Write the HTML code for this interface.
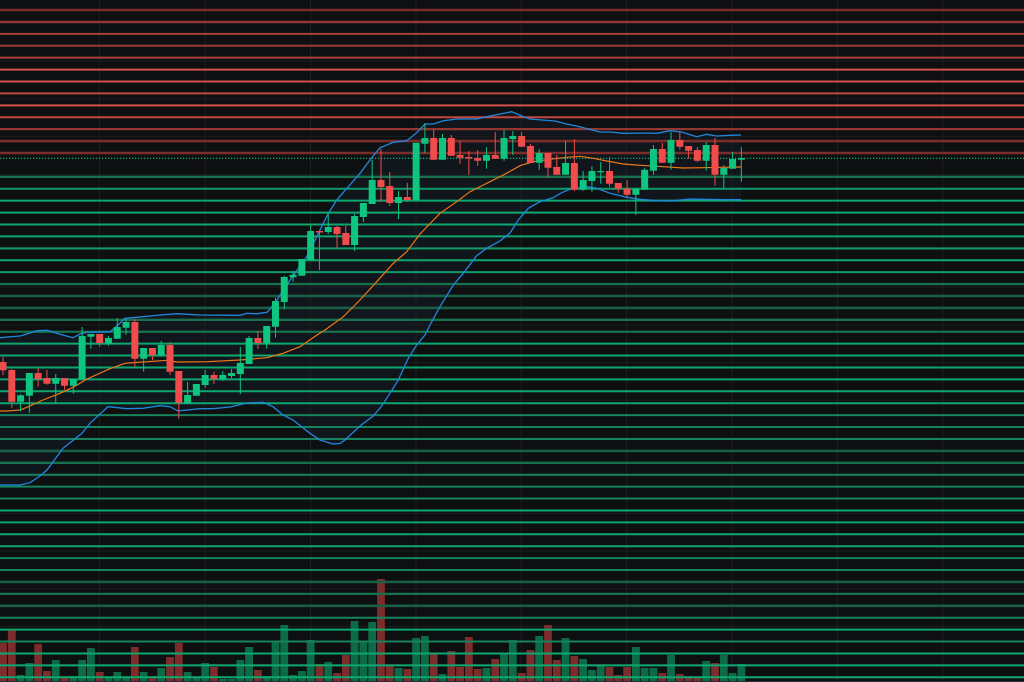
<!DOCTYPE html>
<html>
<head>
<meta charset="utf-8">
<style>
html,body{margin:0;padding:0;background:#0e0f10;}
svg{display:block;}
</style>
</head>
<body>
<svg width="1024" height="682" viewBox="0 0 1024 682" xmlns="http://www.w3.org/2000/svg">
<rect x="0" y="0" width="1024" height="682" fill="#0e0f10"/>
<!-- band fill -->
<path fill="#11161c" d="M0,337.7 L7,337 20,336 30,333 37,330.7 47,330.3 60,334.3 73,337.7 80,334 87,332.3 110,331.7 118,325 125,318.3 143,316.7 160,315 177,313.7 200,315 240,315.3 247,313.3 257,313.7 267,312.3 270,309 277,300 290,280 306.7,256.7 328.3,213.3 336.7,200 360,173.3 371.7,157.7 380,147.7 393.3,142.3 406.7,140.7 416.7,132.7 425,124 433.3,124 443.3,120.7 456.7,119 476.7,119 490,116 500,114 511.7,111.7 521.7,116 530,119 555,121 566.7,124 576.7,126 600,132 610,132 623.3,133.3 646.7,133 656.7,133.3 670,130.7 681.7,132 696.7,136.7 706.7,134.3 716.7,136 730,135.3 741,135 L741,682 L0,682 Z"/>
<path fill="#0e0f10" d="M0,485 L20,485 30,482.7 40,476 47,470 63,448.3 82,433.3 90,423.3 108,406.7 127,408.7 143,408.3 160,405.7 170,406.7 178,411 200,408.7 213,408.7 230,407 247,403 263,402.3 273,406.7 283,415 293,420 310,433.3 320,440 333,444 340,443.5 345,440 360,426 373.3,416 381.7,406 390,393.3 398.3,380 408.3,358.3 416.7,345 425,335 430,325 440,306.7 453.3,285 463.3,273.3 476.7,255.7 486.7,248.3 500,241 510,233 518.3,220 528.3,208.3 540,201.7 553.3,197.7 561.7,192.7 570,189.3 586.7,186.7 596.7,188.3 610,193.3 626.7,197.3 640,199.3 656.7,200.7 670,201 690,199 703.3,199.3 723.3,199.7 741,199.7 L741,682 L0,682 Z"/>
<!-- grid -->
<path stroke="#1d1e20" stroke-width="1" fill="none" d="M99.5 0V682M205 0V682M310.5 0V682M416 0V682M521 0V682M626.5 0V682M732 0V682M837.5 0V682M943 0V682
M0 23.3H1024M0 61H1024M0 98.7H1024M0 136.4H1024M0 174.1H1024M0 211.8H1024M0 249.5H1024M0 287.2H1024M0 324.9H1024M0 362.6H1024M0 400.3H1024M0 438H1024M0 475.7H1024M0 513.4H1024M0 551.1H1024M0 588.8H1024M0 626.5H1024M0 664.2H1024"/>
<!-- volume -->
<path stroke="#0c6a47" stroke-width="7.8" fill="none" d="M20.58 675V681M29.37 663V681M55.74 660V681M73.32 676V681M82.11 660V681M90.9 648V681M108.48 677V681M117.27 672V681M126.06 677V681M143.64 672V681M161.22 668V681M187.59 672V681M196.38 677V681M205.17 663V681M222.75 679V681M231.54 679V681M240.33 660V681M249.12 647V681M266.7 676V681M275.49 641V681M284.28 625V681M293.07 675V681M301.86 671V681M310.65 640V681M328.23 662V681M354.6 621V681M363.39 641V681M372.18 622V681M398.55 668V681M416.13 638V681M424.92 636V681M442.5 674V681M486.45 668V681M504.03 654V681M512.82 640V681M539.19 636V681M565.56 638V681M583.14 659V681M591.93 670V681M600.72 665V681M635.88 647V681M644.67 668V681M653.46 668V681M671.04 655V681M706.2 661V681M723.78 655V681M732.57 673V681M741.36 664V681"/>
<path stroke="#7d2b2b" stroke-width="7.8" fill="none" d="M3 643V681M11.79 629.7V681M38.16 644V681M46.95 671V681M64.53 677V681M99.69 672V681M134.85 647V681M152.43 676V681M170.01 657V681M178.8 643V681M213.96 667V681M257.91 670V681M319.44 664V681M337.02 673V681M345.81 655V681M380.97 579V681M389.76 666V681M407.34 669V681M433.71 654V681M451.29 651V681M460.08 667V681M468.87 637V681M477.66 669V681M495.24 659V681M521.61 673V681M530.4 650V681M547.98 625V681M556.77 660V681M574.35 656V681M609.51 667V681M618.3 675V681M627.09 667V681M662.25 673V681M679.83 674V681M688.62 676V681M697.41 677V681M714.99 663V681"/>
<!-- red level lines -->
<path stroke="#7b2d2a" stroke-width="2.6" fill="none" d="M0 10H1024M0 141.08H1024M0 152.99H1024"/>
<path stroke="#923631" stroke-width="2.3" fill="none" d="M0 21.92H1024M0 45.75H1024M0 129.16H1024"/>
<path stroke="#a8403a" stroke-width="2" fill="none" d="M0 33.83H1024M0 57.66H1024"/>
<path stroke="#c04840" stroke-width="2" fill="none" d="M0 93.41H1024M0 117.24H1024"/>
<path stroke="#d2514a" stroke-width="2" fill="none" d="M0 69.58H1024M0 81.5H1024M0 105.33H1024"/>
<!-- green level lines -->
<path stroke="#195f45" stroke-width="2.6" fill="none" d="M0 295.98H1024M0 307.9H1024M0 450.89H1024M0 581.97H1024M0 605.8H1024"/>
<path stroke="#17714f" stroke-width="2.3" fill="none" d="M0 176.82H1024M0 284.07H1024M0 319.82H1024M0 331.73H1024M0 462.81H1024M0 593.88H1024"/>
<path stroke="#15845c" stroke-width="2" fill="none" d="M0 415.14H1024M0 427.06H1024M0 438.98H1024M0 474.72H1024M0 486.64H1024M0 498.56H1024M0 558.14H1024M0 570.05H1024M0 617.72H1024M0 641.55H1024"/>
<path stroke="#109a68" stroke-width="2" fill="none" d="M0 188.74H1024M0 248.32H1024M0 272.15H1024"/>
<path stroke="#0da870" stroke-width="2" fill="none" d="M0 200.66H1024M0 212.57H1024M0 224.49H1024M0 236.4H1024M0 260.24H1024M0 343.65H1024M0 355.56H1024M0 367.48H1024M0 379.4H1024M0 391.31H1024M0 403.23H1024M0 510.47H1024M0 522.39H1024M0 534.3H1024M0 546.22H1024M0 629.63H1024M0 653.46H1024M0 665.38H1024M0 677.3H1024"/>
<!-- price line -->
<line x1="0" y1="158.3" x2="1024" y2="158.3" stroke="#0ecb81" stroke-width="1.2" stroke-dasharray="1.2 1.8"/>
<!-- axis line -->
<line x1="0" y1="681.5" x2="1024" y2="681.5" stroke="#2a2e39" stroke-width="1"/>
<!-- bollinger bands -->
<polyline fill="none" stroke="#2187dc" stroke-width="1.3" points="0,337.7 7,337 20,336 30,333 37,330.7 47,330.3 60,334.3 73,337.7 80,334 87,332.3 110,331.7 118,325 125,318.3 143,316.7 160,315 177,313.7 200,315 240,315.3 247,313.3 257,313.7 267,312.3 270,309 277,300 290,280 306.7,256.7 328.3,213.3 336.7,200 360,173.3 371.7,157.7 380,147.7 393.3,142.3 406.7,140.7 416.7,132.7 425,124 433.3,124 443.3,120.7 456.7,119 476.7,119 490,116 500,114 511.7,111.7 521.7,116 530,119 555,121 566.7,124 576.7,126 600,132 610,132 623.3,133.3 646.7,133 656.7,133.3 670,130.7 681.7,132 696.7,136.7 706.7,134.3 716.7,136 730,135.3 741,135"/>
<polyline fill="none" stroke="#2187dc" stroke-width="1.3" points="0,485 20,485 30,482.7 40,476 47,470 63,448.3 82,433.3 90,423.3 108,406.7 127,408.7 143,408.3 160,405.7 170,406.7 178,411 200,408.7 213,408.7 230,407 247,403 263,402.3 273,406.7 283,415 293,420 310,433.3 320,440 333,444 340,443.5 345,440 360,426 373.3,416 381.7,406 390,393.3 398.3,380 408.3,358.3 416.7,345 425,335 430,325 440,306.7 453.3,285 463.3,273.3 476.7,255.7 486.7,248.3 500,241 510,233 518.3,220 528.3,208.3 540,201.7 553.3,197.7 561.7,192.7 570,189.3 586.7,186.7 596.7,188.3 610,193.3 626.7,197.3 640,199.3 656.7,200.7 670,201 690,199 703.3,199.3 723.3,199.7 741,199.7"/>
<polyline fill="none" stroke="#ee7718" stroke-width="1.2" points="0,411 7,411 20,410 30,406 43,400 60,393.3 73,387.3 87,379 110,368.7 125,363.3 167,360.3 177,362 207,361.7 240,360 267,357.7 283,353.3 300,346.7 317,335 325,330 343.3,316.7 360,300 376.7,281.7 393.3,263.3 406.7,251.7 420,234 440,213.3 456.7,201.7 470,191.7 483.3,185 490,181.7 503.3,175 520,165.7 533.3,161.7 550,159.3 566.7,157.3 580,156.3 593.3,158.3 606.7,161 623.3,164 640,165.3 663.3,166.7 683.3,168 703.3,167.7 723.3,167.3 741,167"/>
<!-- candles green -->
<path stroke="#0ec47f" stroke-width="1" fill="none" d="M20.58 394.3V411.3M29.37 373V412.7M55.74 374V402.7M73.32 379V393.7M82.11 327V379M90.9 334V348.7M108.48 336V345.7M117.27 318V338.7M126.06 319V334.7M143.64 348V371.7M161.22 341V356.7M187.59 382V403.3M196.38 384V395.7M205.17 370V387.7M222.75 371V381M231.54 369V378M240.33 347V394M249.12 336V364M266.7 326V348.7M275.49 297.7V337.7M284.28 275.7V309.3M293.07 271V281.7M301.86 259V275.7M310.65 226V260.3M328.23 212.7V234M354.6 214V251M363.39 203V222M372.18 160V204M398.55 191V219M416.13 142.7V200M424.92 123V152.7M442.5 134V159.7M486.45 147V168.7M504.03 130V160.7M512.82 131V155M539.19 149V169.7M565.56 141V174.7M583.14 171V190.7M591.93 166V191.7M600.72 162V183.7M635.88 188.7V214.7M644.67 167.7V189.7M653.46 145V174.7M671.04 132V169.7M706.2 142V170.7M723.78 165V188.7M732.57 152V168.7M741.36 147V181.7"/>
<path stroke="#0ec47f" stroke-width="7" fill="none" d="M20.58 395.3V401.7M29.37 373V395.7M55.74 378V383.7M73.32 379V385.7M82.11 336V379M90.9 334V336.7M108.48 338V343.7M117.27 327V338.7M126.06 322V327.7M143.64 348V358.7M161.22 345V355.3M187.59 395V403.3M196.38 384V395.7M205.17 375V385M222.75 375V379M231.54 373V376M240.33 363V374M249.12 338V364M266.7 326V343M275.49 301V326.7M284.28 277V302M293.07 274.7V277.3M301.86 259V275.7M310.65 231V260.3M328.23 227V232M354.6 216V245M363.39 203V217M372.18 180V204M398.55 197V203M416.13 142.7V200M424.92 138V143.7M442.5 138V159.7M486.45 155V160.7M504.03 138V158.7M512.82 136V139M539.19 153V162.7M565.56 163V174.7M583.14 180V189.7M591.93 171V181M600.72 171V172.2M635.88 188.7V194.7M644.67 169.7V189.7M653.46 149V170.7M671.04 140V162.7M706.2 145V160.7M723.78 168V174.7M732.57 159V168.7M741.36 158V159.7"/>
<!-- candles red -->
<path stroke="#ef4c4b" stroke-width="1" fill="none" d="M3 357V375.3M11.79 369V407.7M38.16 368V386.7M46.95 370V384.7M64.53 378V389.7M99.69 334V346.7M134.85 319V366.7M152.43 348V360M170.01 342V375M178.8 371V418.7M213.96 371.7V384M257.91 331V349M319.44 231V270M337.02 226V248M345.81 226V245M380.97 149V202M389.76 172V206M407.34 183V202M433.71 129V159.7M451.29 135V155.7M460.08 141V163.7M468.87 151V174.7M477.66 150V165.7M495.24 132V158.7M521.61 132V146.7M530.4 144V163M547.98 153V177.7M556.77 155V174.7M574.35 139V191.3M609.51 157V186.7M618.3 183V192.7M627.09 180V197.7M662.25 143V162.7M679.83 132V149.7M688.62 146V158.7M697.41 147V161.7M714.99 138V185.7"/>
<path stroke="#ef4c4b" stroke-width="7" fill="none" d="M3 362V370.3M11.79 370V401.7M38.16 373V379M46.95 378V383.7M64.53 378V385.7M99.69 334V343M134.85 322V358.7M152.43 348V355M170.01 345V371.7M178.8 371V402.7M213.96 375V379M257.91 338V343M319.44 231V232.5M337.02 227V234M345.81 233V245M380.97 180V187M389.76 186V203M407.34 197V200M433.71 138V159.7M451.29 138V155.7M460.08 155V157.7M468.87 157V158.5M477.66 158V160.7M495.24 155V158.7M521.61 136V146.7M530.4 146V163M547.98 153V167.7M556.77 167V174.7M574.35 163V189.7M609.51 171V183.7M618.3 183V188.7M627.09 188.7V194.7M662.25 149V162.7M679.83 140V146.7M688.62 146V150.7M697.41 150V160.7M714.99 145V174.7"/>
</svg>
</body>
</html>
